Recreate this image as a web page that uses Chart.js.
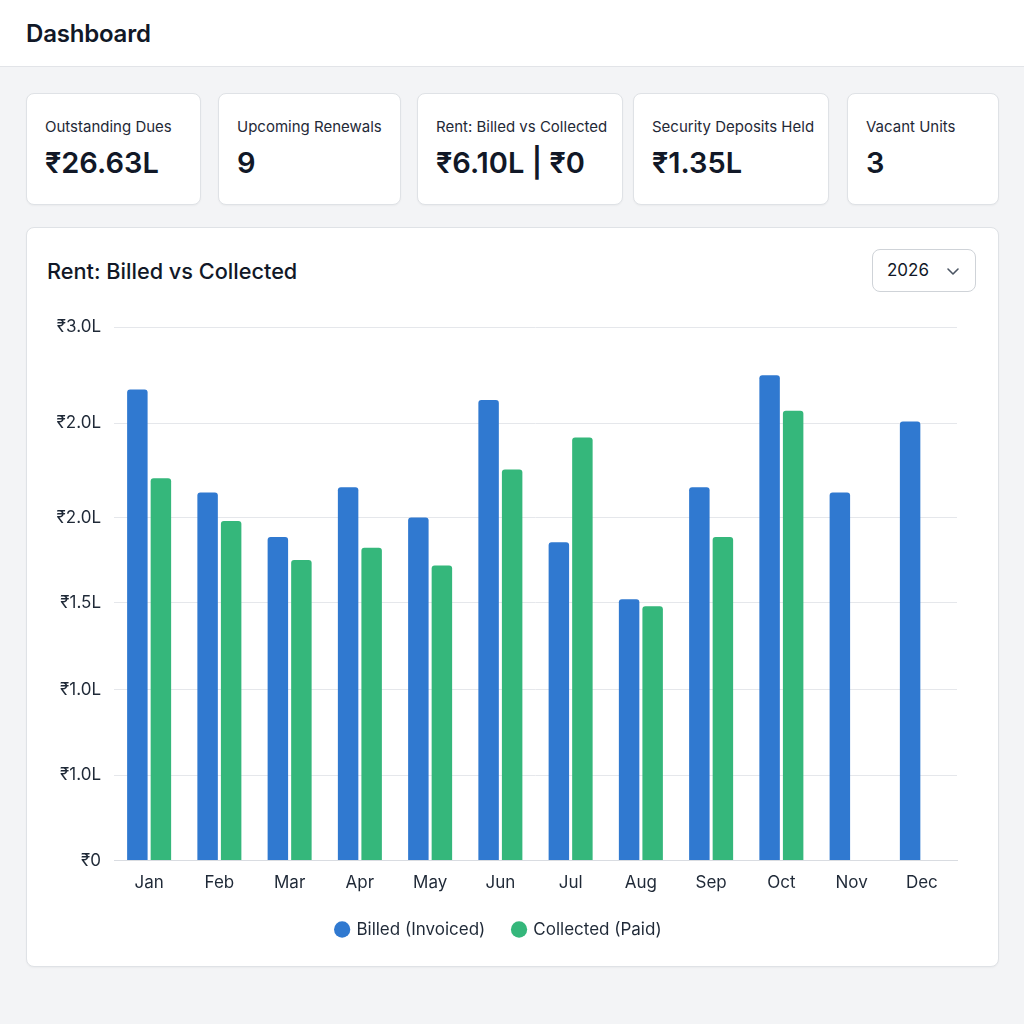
<!DOCTYPE html>
<html>
<head>
<meta charset="utf-8">
<script src="https://cdn.jsdelivr.net/npm/chart.js@4.4.1/dist/chart.umd.min.js"></script>
<style>
  html, body { margin: 0; padding: 0; }
  body { width: 1024px; height: 1024px; background: #f3f4f6; font-family: Inter, "Noto Sans", sans-serif; color: #111827; position: relative; overflow: hidden; }
  .header { position: absolute; left: 0; top: 0; width: 1024px; height: 66px; background: #ffffff; border-bottom: 1px solid #e2e4e8; }
  .header h1 { position: absolute; left: 26px; top: 19px; margin: 0; font-size: 24px; font-weight: 600; letter-spacing: -0.2px; }
  .card { position: absolute; background: #fff; border: 1px solid #dfe2e6; border-radius: 8px; box-shadow: 0 1px 2px rgba(0,0,0,0.04); box-sizing: border-box; }
  .kpi .t { position: absolute; left: 18px; top: 23px; font-size: 15px; color: #1f2937; white-space: nowrap; }
  .kpi .v { position: absolute; left: 18px; top: 51px; font-size: 29px; font-weight: 600; white-space: nowrap; color: #111827; }
  .ctitle { position: absolute; left: 20px; top: 30px; font-size: 21.7px; font-weight: 500; color: #111827; }
  .select { position: absolute; left: 845px; top: 21px; width: 104px; height: 43px; border: 1px solid #cfd3d8; border-radius: 8px; box-sizing: border-box; }
  .select span { position: absolute; left: 14px; top: 10px; font-size: 17px; color: #111827; }
  .select svg { position: absolute; left: 73px; top: 17px; }
  .chartbox { position: absolute; left: 14px; top: 76px; width: 944px; height: 644px; }
</style>
</head>
<body>
<div class="header"><h1>Dashboard</h1></div>

<div class="card kpi" style="left:26px; top:93px; width:175px; height:112px;"><div class="t">Outstanding Dues</div><div class="v">₹26.63L</div></div>
<div class="card kpi" style="left:218px; top:93px; width:183px; height:112px;"><div class="t">Upcoming Renewals</div><div class="v">9</div></div>
<div class="card kpi" style="left:417px; top:93px; width:206px; height:112px;"><div class="t">Rent: Billed vs Collected</div><div class="v">₹6.10L | ₹0</div></div>
<div class="card kpi" style="left:633px; top:93px; width:196px; height:112px;"><div class="t">Security Deposits Held</div><div class="v">₹1.35L</div></div>
<div class="card kpi" style="left:847px; top:93px; width:152px; height:112px;"><div class="t">Vacant Units</div><div class="v">3</div></div>

<div class="card" style="left:26px; top:227px; width:973px; height:740px;">
  <div class="ctitle">Rent: Billed vs Collected</div>
  <div class="select"><span>2026</span>
    <svg width="14" height="9" viewBox="0 0 14 9"><path d="M2 2 L7 7 L12 2" fill="none" stroke="#4b5563" stroke-width="1.6" stroke-linecap="round" stroke-linejoin="round"/></svg>
  </div>
  <div class="chartbox"><canvas id="c"></canvas></div>
</div>

<script>
const months = ["Jan","Feb","Mar","Apr","May","Jun","Jul","Aug","Sep","Oct","Nov","Dec"];
const billed = [2.65, 2.07, 1.82, 2.10, 1.93, 2.59, 1.79, 1.47, 2.10, 2.73, 2.07, 2.47];
const collected = [2.15, 1.91, 1.69, 1.76, 1.66, 2.20, 2.38, 1.43, 1.82, 2.53, null, null];
const tickValues = [0, 0.48, 0.96, 1.45, 1.93, 2.46, 3.0];
const tickLabels = ["₹0", "₹1.0L", "₹1.0L", "₹1.5L", "₹2.0L", "₹2.0L", "₹3.0L"];
const seriesNames = ["Billed (Invoiced)", "Collected (Paid)"];

const canvas = document.getElementById('c');
canvas.width = 944; canvas.height = 644;

new Chart(canvas, {
  type: 'bar',
  data: {
    labels: months,
    datasets: [
      { label: seriesNames[0], data: billed, backgroundColor: '#3079d0', borderRadius: {topLeft: 3, topRight: 3}, borderSkipped: 'bottom', barPercentage: 0.87, categoryPercentage: 0.67 },
      { label: seriesNames[1], data: collected, backgroundColor: '#35b77b', borderRadius: {topLeft: 3, topRight: 3}, borderSkipped: 'bottom', barPercentage: 0.87, categoryPercentage: 0.67 }
    ]
  },
  options: {
    responsive: false,
    animation: false,
    devicePixelRatio: 1,
    layout: { padding: { top: 3, right: 28, left: 0, bottom: 0 } },
    plugins: {
      legend: {
        position: 'bottom',
        labels: { usePointStyle: true, pointStyle: 'circle', boxWidth: 11.5, boxHeight: 11.5, padding: 28, color: '#1f2937', font: { family: 'Inter', size: 17 } }
      },
      tooltip: { enabled: false }
    },
    scales: {
      x: {
        afterFit: (axis) => { axis.height = axis.height - 12; },
        grid: { display: false, drawTicks: false },
        border: { display: true, color: '#d9dce1' },
        ticks: { color: '#1f2937', font: { family: 'Inter', size: 17 }, padding: 12 }
      },
      y: {
        min: 0, max: 3.0,
        afterBuildTicks: (axis) => { axis.ticks = tickValues.map(v => ({ value: v })); },
        afterFit: (axis) => { axis.width = 73; },
        grid: { color: '#e5e7eb', drawTicks: false },
        border: { display: false },
        ticks: {
          color: '#1f2937', font: { family: 'Inter', size: 17 }, padding: 13,
          callback: (v, i) => tickLabels[i]
        }
      }
    }
  }
});
</script>
</body>
</html>
